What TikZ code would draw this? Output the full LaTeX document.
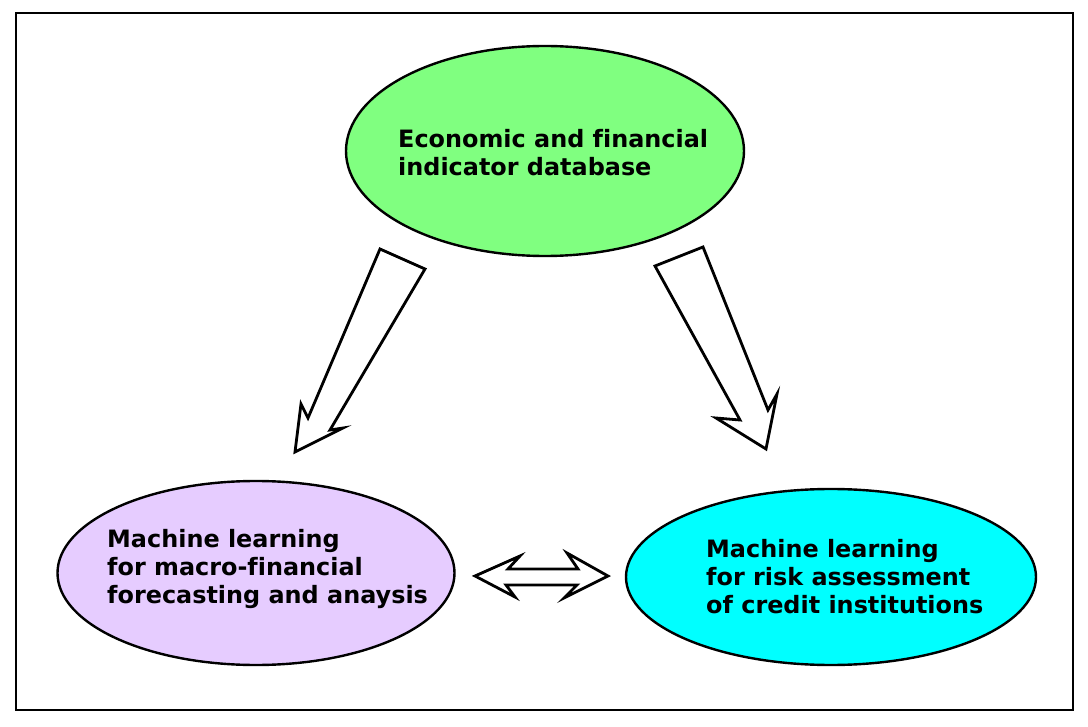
\documentclass[tikz,border=0pt]{standalone}
\usepackage{fontspec}
\setmainfont{DejaVu Sans}[Ligatures=NoCommon]
\usetikzlibrary{shapes.geometric}
\definecolor{dbgreen}{HTML}{80FF80}
\definecolor{mlviolet}{HTML}{E6CCFF}
\definecolor{mlcyan}{HTML}{00FFFF}
\tikzset{
  blob/.style={ellipse, draw=black, line width=2.4pt, inner sep=0pt},
  blobtext/.style={font=\bfseries\fontsize{23.9}{28}\selectfont, align=left, anchor=base west, inner sep=0pt},
  fatarrow/.style={draw=black, fill=white, line width=2.8pt, line join=miter},
}
\begin{document}
\begin{tikzpicture}[x=1pt,y=-1pt]
\useasboundingbox (0,0) rectangle (1088,727);
\draw[line width=2.8pt] (16,13) rectangle (1073,710); % frame
% the three ellipses
\node[blob, fill=dbgreen, minimum width=398pt, minimum height=210pt] (db) at (545,151) {};
\node[blob, fill=mlviolet, minimum width=397pt, minimum height=184pt] (macro) at (256,573) {};
\node[blob, fill=mlcyan, minimum width=410pt, minimum height=176pt] (risk) at (831,577) {};
% base is the last line here
\node[blobtext] (dbtext) at (398,176) {Economic and financial\\indicator database};
\node[blobtext] (macrotext) at (107,603) {Machine learning\\for macro-financial\\forecasting and anaysis};
\node[blobtext] (risktext) at (706,613) {Machine learning\\for risk assessment\\of credit institutions};
% block arrows, edit the corner points here
\draw[fatarrow] (380,249) -- (425,269) -- (330,430) -- (343,428) -- (295,452)
  -- (301,404) -- (308,418) -- cycle;
\draw[fatarrow] (655,266) -- (703,247) -- (768,410) -- (777,394) -- (766,449)
  -- (716,418) -- (740,420) -- cycle;
% double arrow between the two learning tasks
\draw[fatarrow] (475,576) -- (520,556) -- (508,569) -- (578,569) -- (567,553) -- (608,576)
  -- (564,598) -- (577,585) -- (506,585) -- (515,597) -- cycle;
\end{tikzpicture}
\end{document}
